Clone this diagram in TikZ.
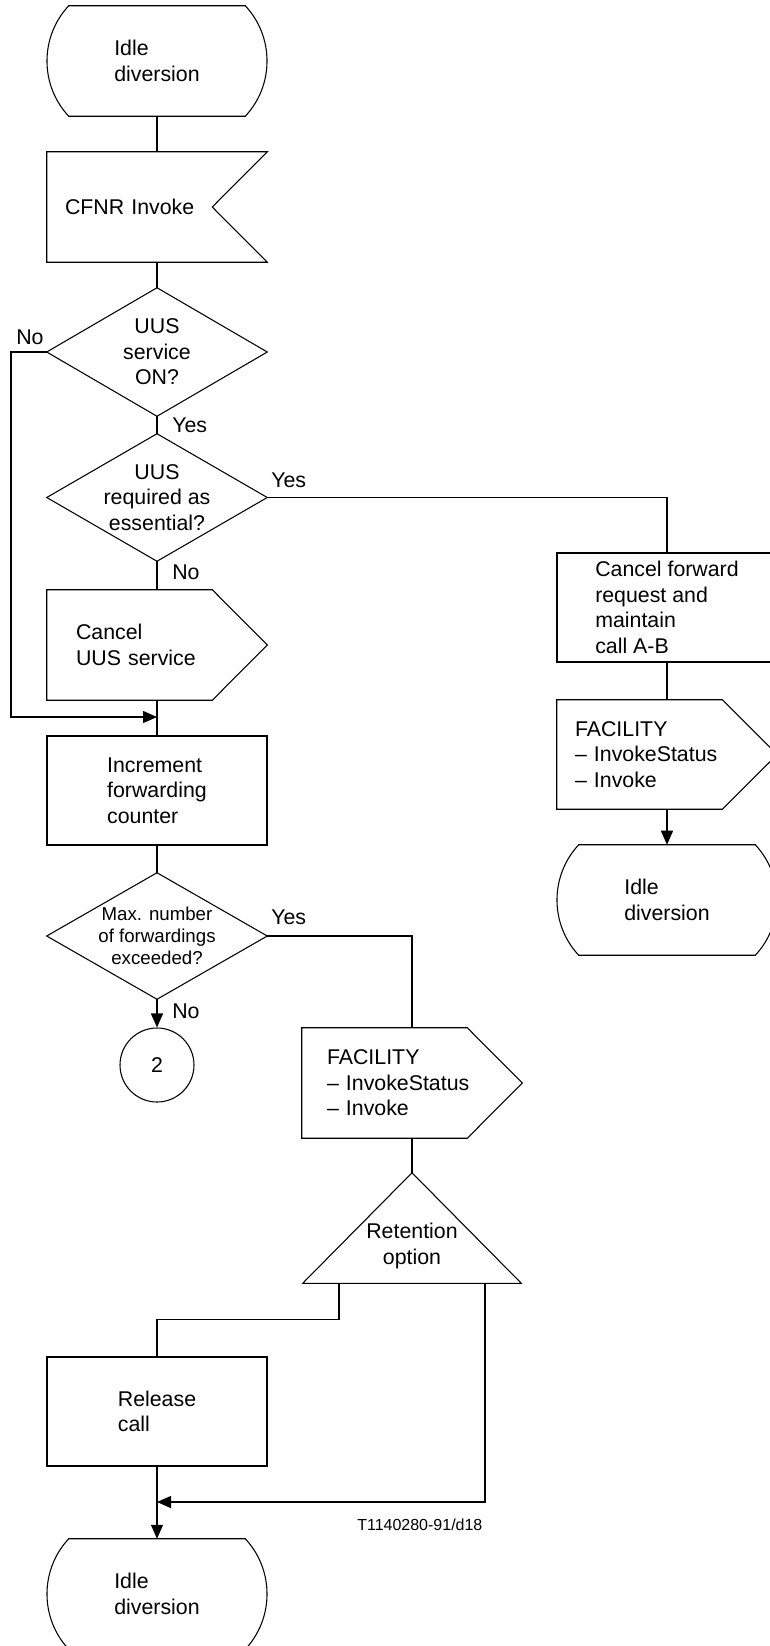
\documentclass[tikz,border=0pt]{standalone}
\usepackage{fontspec}
\setmainfont{Liberation Sans}
\usetikzlibrary{arrows.meta}

% one drawing unit = one pixel of the layout grid
\def\pxu{0.75pt}
\newcommand\flowfont{\fontsize{16pt}{19.2pt}\selectfont}
\newcommand\smallflowfont{\fontsize{14pt}{16.3pt}\selectfont}
\newcommand\notefont{\fontsize{12pt}{14pt}\selectfont}

% outlines of the SDL symbols, drawn round an invisible box node
\newcommand\drawstate[1]{%
  \draw[outline] ([shift={(22,0)}]#1.north west) -- ([shift={(-22,0)}]#1.north east)
    .. controls ([shift={(7,31)}]#1.north east) and ([shift={(7,-31)}]#1.south east)
    .. ([shift={(-22,0)}]#1.south east) -- ([shift={(22,0)}]#1.south west)
    .. controls ([shift={(-7,-31)}]#1.south west) and ([shift={(-7,31)}]#1.north west)
    .. ([shift={(22,0)}]#1.north west) -- cycle;}
\newcommand\drawinput[1]{%
  \draw[outline] (#1.north west) -- (#1.north east) -- ([shift={(-55,0)}]#1.east)
    -- (#1.south east) -- (#1.south west) -- cycle;}
\newcommand\drawoutput[1]{%
  \draw[outline] (#1.north west) -- ([shift={(-55,0)}]#1.north east) -- (#1.east)
    -- ([shift={(-55,0)}]#1.south east) -- (#1.south west) -- cycle;}
\newcommand\drawdecision[1]{%
  \draw[outline] (#1.north) -- (#1.east) -- (#1.south) -- (#1.west) -- cycle;}
\newcommand\drawoption[1]{%
  \draw[outline] (#1.north) -- (#1.south east) -- (#1.south west) -- cycle;}

\begin{document}
\begin{tikzpicture}[x=0.75pt, y=-0.75pt,
  outline/.style={draw=black, line width=0.8pt, line join=miter},
  flow/.style={draw=black, line width=1pt},
  arrowed/.style={flow, -{Triangle[length=10.5pt,width=9pt]}},
  sym/.style={rectangle, inner sep=0pt, minimum width=220*\pxu,
    minimum height=110*\pxu, font=\flowfont, align=left},
  task/.style={sym, outline},
  decision/.style={sym, align=center, minimum height=127*\pxu},
  lbl/.style={inner sep=0pt, anchor=west, font=\flowfont}
]
\useasboundingbox (0,0) rectangle (769,1646);

% ---- left column ----
\node[sym] (s1) at (157,61) {Idle\\diversion};
\node[sym, text width=184*\pxu] (cfnr) at (157,207) {CFNR Invoke};
\node[decision, minimum height=128*\pxu] (d1) at (157,352) {UUS\\service\\ON?};
\node[decision] (d2) at (157,497.5) {UUS\\required as\\essential?};
\node[sym, text width=162*\pxu] (cuus) at (157,645) {Cancel\\UUS service};
\node[task, minimum height=109*\pxu] (inc) at (157,790.5) {Increment\\forwarding\\counter};
\node[decision, minimum height=126*\pxu, font=\smallflowfont] (d3) at (157,936)
  {Max. number\\of forwardings\\exceeded?};
\node[circle, outline, minimum size=74*\pxu, inner sep=0pt, font=\flowfont] (circ) at (157,1065) {2};

% ---- middle column ----
\node[sym, text width=170*\pxu] (fac2) at (412,1083)
  {FACILITY\\\textendash{} InvokeStatus\\\textendash{} Invoke};
\node[sym, minimum width=218*\pxu] (ret) at (412,1228) {};
\node[font=\flowfont, align=center, inner sep=0pt] (rett) at (412,1246) {Retention\\option};
\node[task, minimum height=109*\pxu] (rel) at (157,1411.5) {Release\\call};
\node[sym] (s3) at (157,1594) {Idle\\diversion};

% ---- right column ----
\node[task, minimum height=109*\pxu] (cfwd) at (667,607.5)
  {Cancel forward\\request and\\maintain\\call A-B};
\node[sym, minimum height=109*\pxu, text width=184*\pxu] (fac1) at (667,754.5)
  {FACILITY\\\textendash{} InvokeStatus\\\textendash{} Invoke};
\node[sym] (s2) at (667,900) {Idle\\diversion};

% symbol outlines
\drawstate{s1}
\drawinput{cfnr}
\drawdecision{d1}
\drawdecision{d2}
\drawoutput{cuus}
\drawdecision{d3}
\drawoutput{fac2}
\drawoption{ret}
\drawstate{s3}
\drawoutput{fac1}
\drawstate{s2}

% branch labels
\node[lbl] (no1) at (16,337) {No};
\node[lbl] (yes1) at (172,425) {Yes};
\node[lbl] (yes2) at (271,480) {Yes};
\node[lbl] (no2) at (172,572) {No};
\node[lbl] (yes3) at (271,917) {Yes};
\node[lbl] (no3) at (172,1011) {No};
\node[lbl, font=\notefont] (ref) at (357,1525) {T1140280-91/d18};

% junction points
\coordinate (nocorner) at (11,717);
\coordinate (j1) at (157,717);
\coordinate (j2) at (157,1502);

% connectors
\draw[flow] (s1.south) -- (cfnr.north);
\draw[flow] (cfnr.south) -- (d1.north);
\draw[flow] (d1.south) -- (d2.north);
\draw[arrowed] (d1.west) -| (nocorner) -- (j1);
\draw[flow] (d2.south) -- (cuus.north);
\draw[flow] (d2.east) -| (cfwd.north);
\draw[flow] (cuus.south) -- (inc.north);
\draw[flow] (inc.south) -- (d3.north);
\draw[arrowed] (d3.south) -- (circ.north);
\draw[flow] (d3.east) -| (fac2.north);
\draw[flow] (fac2.south) -- (ret.north);
\draw[flow] ([xshift=-73*\pxu]ret.south) -- ++(0,36) -| (rel.north);
\draw[arrowed] ([xshift=73*\pxu]ret.south) |- (j2);
\draw[arrowed] (rel.south) -- (s3.north);
\draw[flow] (cfwd.south) -- (fac1.north);
\draw[arrowed] (fac1.south) -- (s2.north);
\end{tikzpicture}
\end{document}
